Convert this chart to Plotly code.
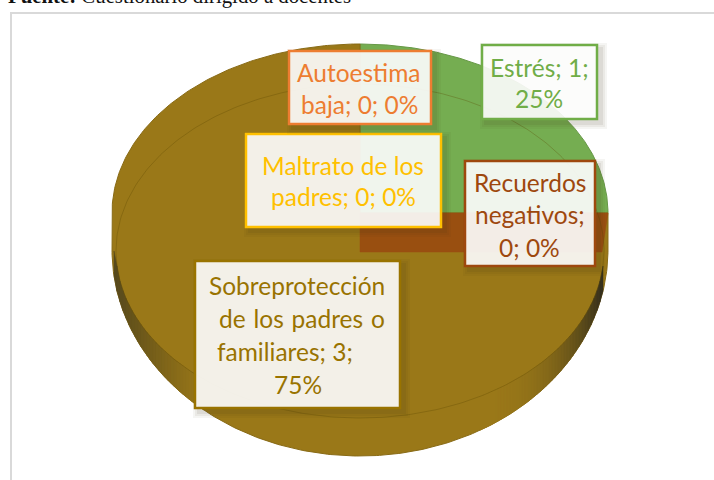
import numpy as np
import plotly.graph_objects as go

# Data
categories = ["Estrés", "Recuerdos negativos", "Sobreprotección de los padres o familiares",
              "Maltrato de los padres", "Autoestima baja"]
values = [1, 0, 3, 0, 0]
percents = ["25%", "0%", "75%", "0%", "0%"]
colors = ["#75AD51", "#994F10", "#9A7818", "#FFC000", "#ED7D31"]
label_colors = ["#70AD47", "#9E480E", "#997300", "#FFC000", "#ED7D31"]

# Label text, one list of lines per category
label_lines = [
    ["Estrés; 1;", "25%"],
    ["Recuerdos", "negativos;", "0; 0%"],
    ["Sobreprotección", "de\u00a0\u200alos\u00a0\u200apadres\u00a0\u200ao", "familiares; 3;", "75%"],
    ["Maltrato de los", "padres; 0; 0%"],
    ["Autoestima", "baja; 0; 0%"],
]
# Layout of labels (pixel space of the picture)
label_boxes = [(482, 45, 597, 119), (465, 161, 595, 266), (195, 261, 400, 408), (246, 134, 441, 227), (289, 51, 431, 124)]
label_line_x = [[539, 539], [530, 530, 529], [297, 302, 285, 298], [343, 343], [359, 359]]
label_line_y = [[67, 98], [182, 214, 247], [285, 318, 351, 384], [165, 196], [72, 104]]

# Pie geometry (pixel space)
CX, CY_TOP, CY_LOW, RX, RY_TOP, RY_LOW = 360, 213, 250, 248, 169, 206
IN_CY, IN_RX, IN_RY = 251, 244, 167
DEPTH, INSET = 39, 6


def rim(t):
    t = np.asarray(t, dtype=float)
    up = np.sin(t) >= 0
    x = CX + RX * np.cos(t)
    y = np.where(up, CY_TOP - RY_TOP * np.sin(t), CY_LOW - RY_LOW * np.sin(t))
    return x, y


def mix(c1, c2, s):
    a = [int(c1[i:i + 2], 16) for i in (1, 3, 5)]
    b = [int(c2[i:i + 2], 16) for i in (1, 3, 5)]
    return "rgb(%d,%d,%d)" % tuple(round(p + (q - p) * s) for p, q in zip(a, b))


total = sum(values)
shares = np.array(values) / total
cum = np.concatenate([[0], np.cumsum(shares)])
angle = lambda f: np.pi / 2 - 2 * np.pi * f

fig = go.Figure()

# Slices with a visible area
for i, cat in enumerate(categories):
    if values[i] == 0:
        continue
    t = np.linspace(angle(cum[i]), angle(cum[i + 1]), 361)
    x, y = rim(t)
    fig.add_trace(go.Scatter(
        x=np.r_[CX, x, CX], y=np.r_[CY_TOP, y, CY_TOP], mode="lines", fill="toself",
        fillcolor=colors[i], line=dict(color=mix(colors[i], "#000000", 0.12), width=1),
        name=cat, hoverinfo="name", showlegend=False))

# Shaded outer wall at both sides of the pie
edges = np.arange(114, 606, 3.0)
for x0, x1 in zip(edges[:-1], edges[1:]):
    xm = (x0 + x1) / 2
    if xm < 205:
        s = (205 - xm) / 90
        col = mix(colors[2], "#57491C", s ** 1.1)
    elif xm > 480:
        s = (xm - 480) / 124
        col = mix(colors[2], "#322D1C", s ** 2.6)
    else:
        continue
    xs = np.array([x0, x1])
    top = IN_CY + IN_RY * np.sqrt(np.clip(1 - ((xs - CX) / IN_RX) ** 2, 0, 1))
    bot = CY_LOW + RY_LOW * np.sqrt(np.clip(1 - ((xs - CX) / RX) ** 2, 0, 1))
    fig.add_trace(go.Scatter(
        x=[x0, x1, x1, x0, x0], y=[top[0], top[1], bot[1], bot[0], top[0]], mode="lines",
        fill="toself", fillcolor=col, line=dict(color=col, width=0.5),
        hoverinfo="skip", showlegend=False))

# Zero-value slice seen as its cut face
t0 = angle(cum[1])
ex, ey = rim([t0])
fig.add_trace(go.Scatter(
    x=[CX, ex[0], ex[0] - INSET, CX, CX], y=[CY_TOP, ey[0], ey[0] + DEPTH, CY_TOP + DEPTH, CY_TOP],
    mode="lines", fill="toself", fillcolor=colors[1], line=dict(color=colors[1], width=0.5),
    name=categories[1], hoverinfo="name", showlegend=False))

# Bevel edge of the top surface
t = np.linspace(0, 2 * np.pi, 361)
fig.add_trace(go.Scatter(x=CX + IN_RX * np.cos(t), y=IN_CY + IN_RY * np.sin(t), mode="lines",
                         line=dict(color="rgba(90,70,0,0.3)", width=1),
                         hoverinfo="skip", showlegend=False))

# Frame and label boxes
shapes = [dict(type="rect", x0=11, y0=13, x1=760, y1=520, layer="below",
               line=dict(color="#D9D9D9", width=2), fillcolor="white")]
for i, (x0, y0, x1, y1) in enumerate(label_boxes):
    for d, op in ((6, 0.05), (4, 0.06), (2, 0.08)):
        shapes.append(dict(type="rect", x0=x0 + 4 - d, y0=y0 + 4 - d, x1=x1 + 4 + d, y1=y1 + 4 + d,
                           line=dict(width=0), fillcolor="rgba(60,50,20,%.2f)" % op))
    shapes.append(dict(type="rect", x0=x0, y0=y0, x1=x1, y1=y1,
                       fillcolor="rgba(255,255,255,0.9)",
                       line=dict(color=label_colors[i], width=2.5)))

annotations = []
for i, lines in enumerate(label_lines):
    for text, lx, ly in zip(lines, label_line_x[i], label_line_y[i]):
        annotations.append(dict(x=lx, y=ly, text=text, showarrow=False, xanchor="center", yanchor="middle",
                                font=dict(family="Lato", size=24.5, color=label_colors[i])))
annotations.append(dict(x=6, y=0, text="<b>Fuente:</b> Cuestionario dirigido a docentes", showarrow=False,
                        xanchor="left", yanchor="middle", yshift=4,
                        font=dict(family="Liberation Serif", size=20.8, color="#111111")))

fig.update_layout(
    width=714, height=480, margin=dict(l=0, r=0, t=0, b=0),
    paper_bgcolor="white", plot_bgcolor="white", showlegend=False,
    xaxis=dict(range=[0, 714], visible=False, fixedrange=True),
    yaxis=dict(range=[480, 0], visible=False, fixedrange=True),
    shapes=shapes, annotations=annotations)

fig.write_html("out.html", config={"displayModeBar": False},
               post_script="document.body.style.margin='0';document.body.style.overflow='hidden';")
